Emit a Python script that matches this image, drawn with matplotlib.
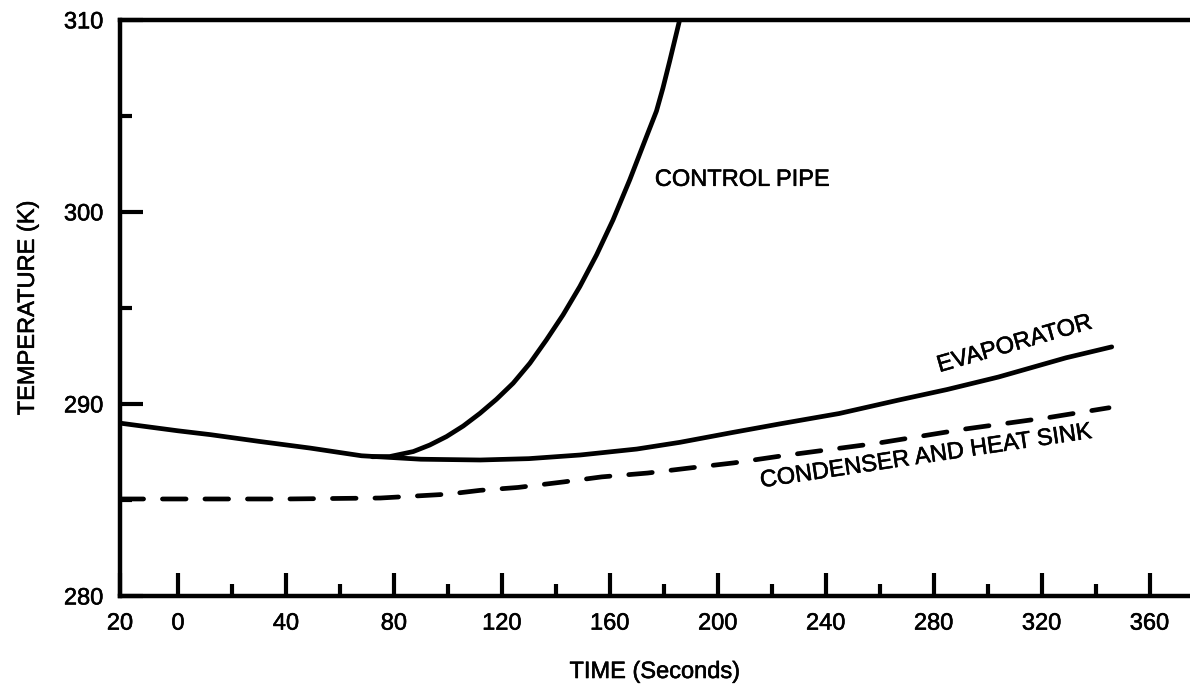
import matplotlib
matplotlib.use("Agg")
import matplotlib.pyplot as plt
import matplotlib.patheffects as pe

plt.rcParams['font.family'] = ['Liberation Sans', 'DejaVu Sans']

# evaporator temperature (K) vs time (s)
evap_t = [-21.5, 0, 12, 30, 49, 68, 90, 112, 130, 149, 170, 186, 205, 223, 245, 267, 285, 304, 329, 346]
evap_T = [289.0, 288.6, 288.4, 288.05, 287.7, 287.3, 287.12, 287.08, 287.15, 287.34, 287.65, 288.0,
          288.5, 288.96, 289.5, 290.2, 290.75, 291.4, 292.4, 292.97]

# control pipe
pipe_t = [72, 78.5, 87.2, 93.3, 99.5, 105.7, 111.9, 118.0, 124.2, 130.4, 136.5, 142.7, 148.9,
          155.1, 161.2, 167.4, 173.6, 177.3, 179.7, 182.2, 184.7, 185.9]
pipe_T = [287.25, 287.26, 287.52, 287.86, 288.30, 288.85, 289.51, 290.24, 291.08, 292.12, 293.33,
          294.64, 296.11, 297.76, 299.58, 301.67, 303.92, 305.25, 306.45, 307.85, 309.3, 310.0]

# condenser and heat sink
cond_t = [-21.5, 0, 40, 75, 100, 112, 126, 143, 157, 174, 190, 206, 224, 259, 292, 323, 345]
cond_T = [285.05, 285.05, 285.05, 285.1, 285.3, 285.5, 285.65, 285.94, 286.2, 286.4, 286.67, 286.93,
          287.3, 287.95, 288.7, 289.3, 289.8]

x_major = [-21.5, 0, 40, 80, 120, 160, 200, 240, 280, 320, 360]
x_labels = ["20", "0", "40", "80", "120", "160", "200", "240", "280", "320", "360"]
x_minor = [20, 60, 100, 140, 180, 220, 260, 300, 340]
y_major = [280, 290, 300, 310]
y_labels = ["280", "290", "300", "310"]
y_minor = [285, 295, 305]

heavy = [pe.withStroke(linewidth=0.4, foreground='black')]

fig = plt.figure(figsize=(11.9, 6.85), dpi=100)
ax = fig.add_axes([0.1008, 0.130, 0.8992, 0.841])

ax.plot(evap_t, evap_T, color='black', lw=3.4, solid_capstyle='round')
ax.plot(pipe_t, pipe_T, color='black', lw=3.4, solid_capstyle='round')
ax.plot(cond_t, cond_T, color='black', lw=3.4, dashes=(5.0, 4.0), dash_capstyle='round')

ax.set_xlim(-21.5, 375)
ax.set_ylim(280, 310)

ax.spines['right'].set_visible(False)
for s in ['left', 'top', 'bottom']:
    ax.spines[s].set_linewidth(3.2)

ax.set_xticks(x_major)
ax.set_xticklabels(x_labels)
ax.set_xticks(x_minor, minor=True)
ax.set_yticks(y_major)
ax.set_yticklabels(y_labels)
ax.set_yticks(y_minor, minor=True)
ax.tick_params(which='both', direction='in', width=3, labelsize=17, pad=12)
ax.tick_params(which='major', length=16.5)
ax.tick_params(which='minor', length=8.5)
ax.tick_params(axis='x', top=False)
ax.tick_params(axis='y', right=False)
for lab in ax.get_xticklabels() + ax.get_yticklabels():
    lab.set_path_effects(heavy)

ax.set_xlabel("TIME (Seconds)", fontsize=17, labelpad=19, path_effects=heavy)
ax.set_ylabel("TEMPERATURE (K)", fontsize=17, labelpad=18, path_effects=heavy)

ax.text(209, 301.67, "CONTROL PIPE", fontsize=17, ha='center', va='center', path_effects=heavy)
ax.text(310, 293.1, "EVAPORATOR", fontsize=17, ha='center', va='center', rotation=16, path_effects=heavy)
ax.text(277, 287.25, "CONDENSER AND HEAT SINK", fontsize=17, ha='center', va='center', rotation=8.5,
        path_effects=heavy)

fig.savefig("out.png", dpi=100)
